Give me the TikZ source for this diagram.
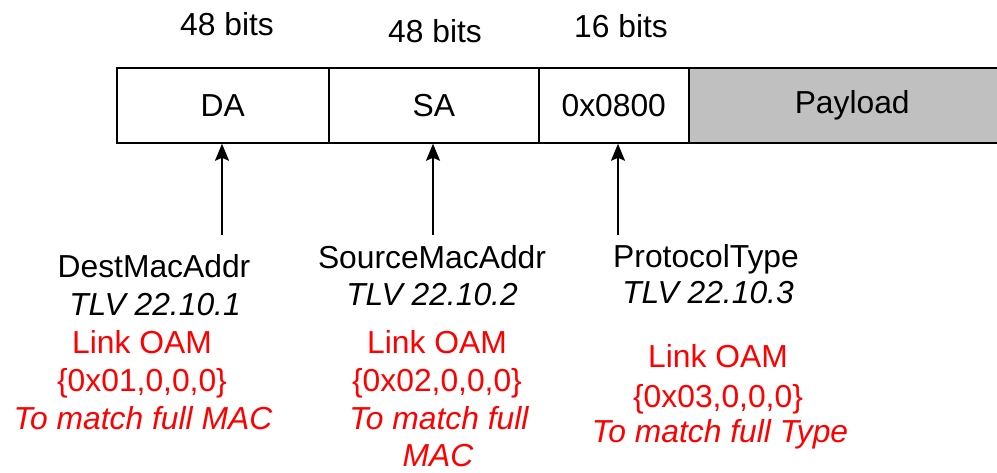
\documentclass[tikz,border=0pt]{standalone}
\usepackage{fontspec}
\setmainfont{Liberation Sans}
\usetikzlibrary{arrows.meta}
\definecolor{paygray}{RGB}{192,192,192}
\definecolor{oamred}{RGB}{255,0,0}
\begin{document}
\begin{tikzpicture}[x=1pt,y=-1pt,
  every node/.style={font=\fontsize{31.8}{38}\selectfont, inner sep=0pt},
  field/.style={draw=black, line width=1.5pt, minimum height=75pt, anchor=west},
  txt/.style={anchor=base},
  itx/.style={anchor=base, font=\fontsize{31.8}{38}\selectfont\itshape},
  red/.style={anchor=base, text=oamred},
  reditx/.style={anchor=base, text=oamred, font=\fontsize{31.8}{38}\selectfont\itshape},
  pointer/.style={line width=1.6pt, -{Stealth[length=17pt,width=14pt,inset=3pt]}}]
\useasboundingbox (0,0) rectangle (997,472);

% bit widths
\node[txt] (b1) at (227,35) {48 bits};
\node[txt] (b2) at (435,42) {48 bits};
\node[txt] (b3) at (621,37) {16 bits};

% frame fields
\node[field, minimum width=212pt] (da) at (116,105.5) {DA};
\node[field, minimum width=210pt] (sa) at (328,105.5) {SA};
\node[field, minimum width=150pt] (pt) at (538,105.5) {0x0800};
\node[field, fill=paygray, minimum width=330pt, text width=324pt, align=left] (pl) at (688,105.5) {\hspace*{103pt}Payload};

% DA labels
\node[txt] (dmac) at (154,277) {DestMacAddr};
\node[itx] (dtlv) at (155,315) {TLV 22.10.1};
\node[red] (doam) at (142,353) {Link OAM};
\node[red] (dval) at (142,391) {\{0x01,0,0,0\}};
\node[reditx] (dmt) at (143,429) {To match full MAC};

% SA labels
\node[txt] (smac) at (432,268) {SourceMacAddr};
\node[itx] (stlv) at (432,305) {TLV 22.10.2};
\node[red] (soam) at (437,353) {Link OAM};
\node[red] (sval) at (437,391) {\{0x02,0,0,0\}};
\node[reditx] (smt) at (439,429) {To match full};
\node[reditx] (smt2) at (438,466) {MAC};

% Protocol type labels
\node[txt] (pmac) at (706,267) {ProtocolType};
\node[itx] (ptlv) at (708,303) {TLV 22.10.3};
\node[red] (poam) at (718,367) {Link OAM};
\node[red] (pval) at (718,407) {\{0x03,0,0,0\}};
\node[reditx] (pmt) at (720,442) {To match full Type};

% pointers
\coordinate (ta) at (222,235);
\coordinate (ts) at (433,235);
\coordinate (tp) at (618,235);
\draw[pointer] (ta) -- (ta |- da.south);
\draw[pointer] (ts) -- (ts |- sa.south);
\draw[pointer] (tp) -- (tp |- pt.south);
\end{tikzpicture}
\end{document}
